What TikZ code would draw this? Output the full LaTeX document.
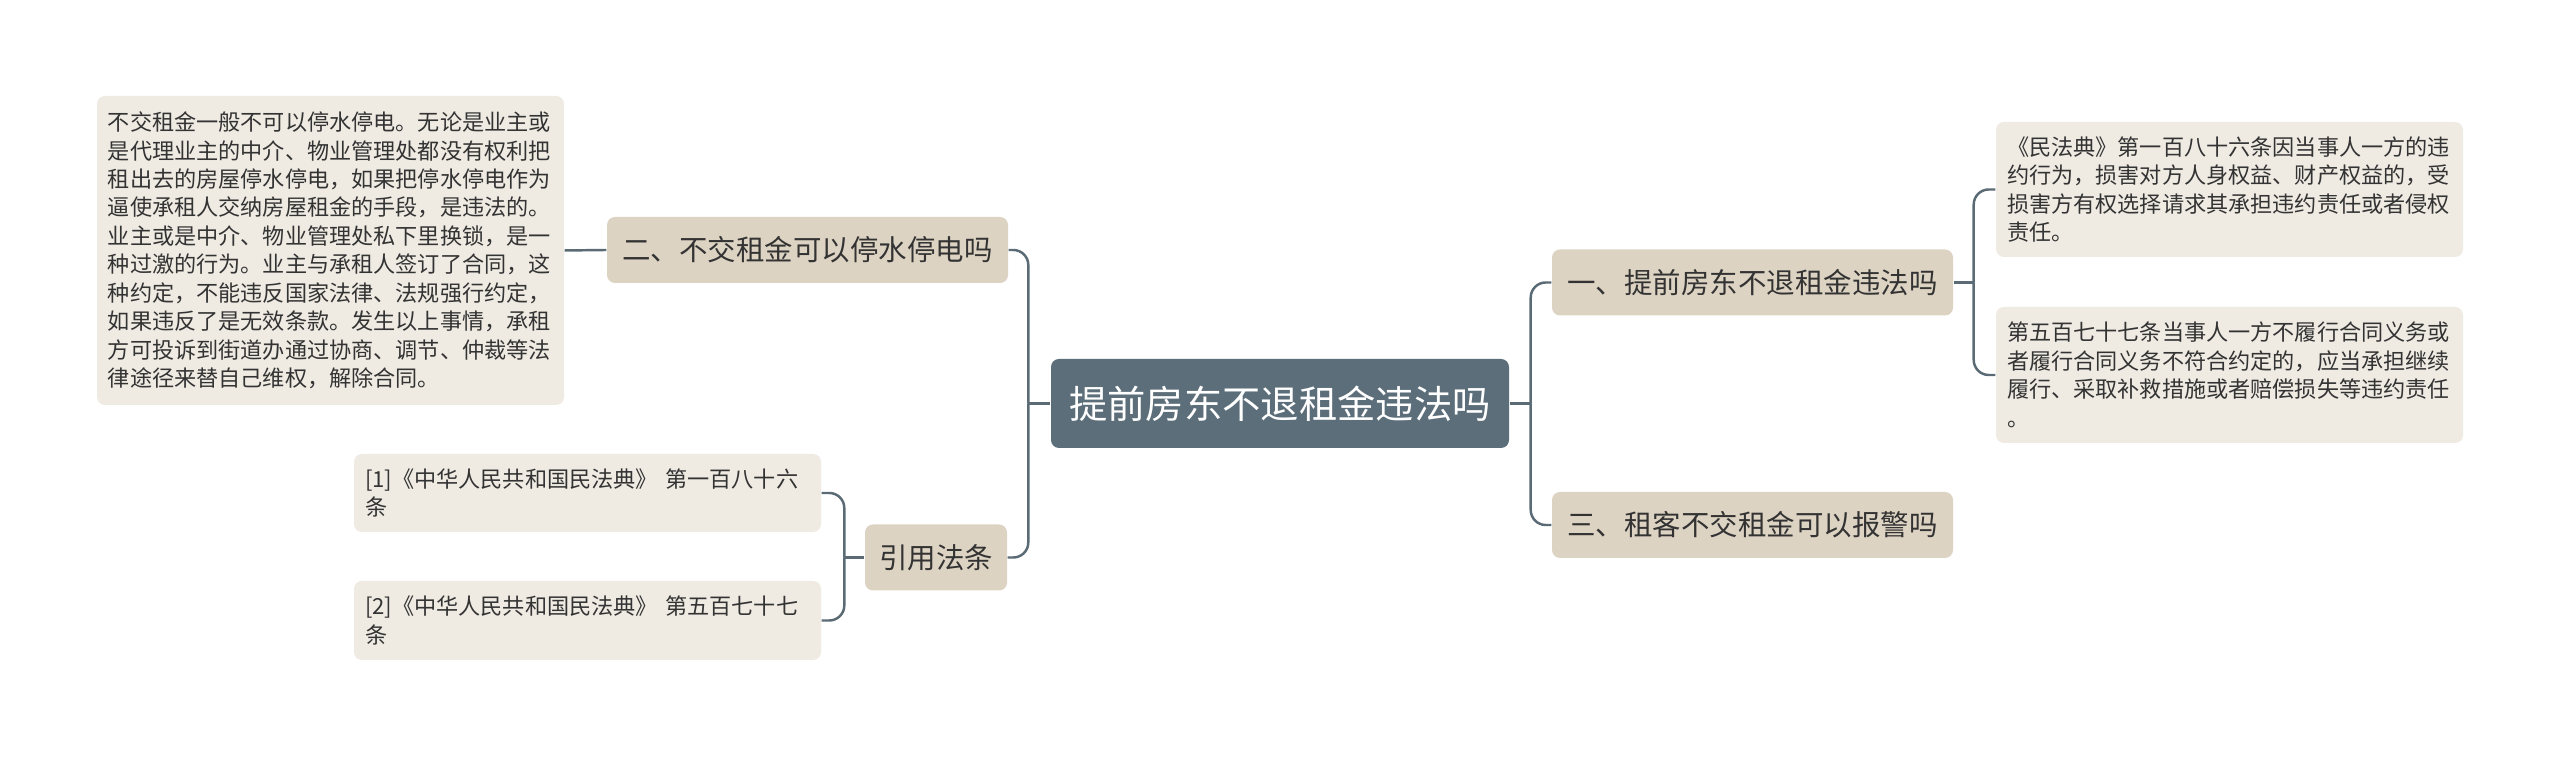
\documentclass[tikz,border=0pt]{standalone}
\usepackage{fontspec}
\setmainfont{Noto Sans CJK SC}
\usepackage{tikz}
\usepackage{xcolor}
\definecolor{rootblue}{HTML}{5B6E7A}
\definecolor{topicbg}{HTML}{DDD3C3}
\definecolor{leafbg}{HTML}{EFEBE3}
\definecolor{linkgray}{HTML}{5B6B75}
\definecolor{txt}{HTML}{333333}

\begin{document}
\begin{tikzpicture}[
  root/.style={fill=rootblue,text=white,rounded corners=0.08cm,minimum width=4.58cm,minimum height=0.89cm,font=\fontsize{10.9}{12}\selectfont},
  topic/.style={fill=topicbg,text=txt,rounded corners=0.08cm,minimum height=0.66cm,font=\fontsize{8.1}{10}\selectfont},
  leaf/.style={fill=leafbg,text=txt,rounded corners=0.08cm,align=left,inner xsep=0.11cm,text width=4.45cm,font=\fontsize{6.3}{8.1}\selectfont},
  link/.style={draw=linkgray,line width=0.7pt,rounded corners=0.15cm}]
  \useasboundingbox (0,0) rectangle (25.6,7.57);
  \fill[white] (0,0) rectangle (25.6,7.57);
  \node[root] (root) at (12.80,3.535) {提前房东不退租金违法吗};
  \node[topic,minimum width=4.01cm] (stop) at (8.075,5.07) {二、不交租金可以停水停电吗};
  \node[topic,minimum width=1.42cm] (cite) at (9.36,1.995) {引用法条};
  \node[topic,minimum width=4.01cm] (illegal) at (17.525,4.745) {一、提前房东不退租金违法吗};
  \node[topic,minimum width=4.01cm] (police) at (17.525,2.32) {三、租客不交租金可以报警吗};
  \node[leaf,minimum height=3.09cm] (stopnote) at (3.305,5.065) {不交租金一般不可以停水停电。无论是业主或\\是代理业主的中介、物业管理处都没有权利把\\租出去的房屋停水停电，如果把停水停电作为\\逼使承租人交纳房屋租金的手段，是违法的。\\业主或是中介、物业管理处私下里换锁，是一\\种过激的行为。业主与承租人签订了合同，这\\种约定，不能违反国家法律、法规强行约定，\\如果违反了是无效条款。发生以上事情，承租\\方可投诉到街道办通过协商、调节、仲裁等法\\律途径来替自己维权，解除合同。};
  \node[leaf,minimum height=0.78cm] (ref1) at (5.875,2.64) {[1]《中华人民共和国民法典》 第一百八十六\\条};
  \node[leaf,minimum height=0.79cm] (ref2) at (5.875,1.365) {[2]《中华人民共和国民法典》 第五百七十七\\条};
  \node[leaf,minimum height=1.35cm] (law1) at (22.295,5.675) {《民法典》第一百八十六条因当事人一方的违\\约行为，损害对方人身权益、财产权益的，受\\损害方有权选择请求其承担违约责任或者侵权\\责任。};
  \node[leaf,minimum height=1.36cm] (law2) at (22.295,3.82) {第五百七十七条当事人一方不履行合同义务或\\者履行合同义务不符合约定的，应当承担继续\\履行、采取补救措施或者赔偿损失等违约责任\\。};
  \draw[link] (root.west) -- ++(-0.22,0) coordinate (lhub);
  \draw[link] (lhub) |- (stop.east);
  \draw[link] (lhub) |- (cite.east);
  \draw[link] (root.east) -- ++(0.21,0) coordinate (rhub);
  \draw[link] (rhub) |- (illegal.west);
  \draw[link] (rhub) |- (police.west);
  \draw[link] (illegal.east) -- ++(0.2,0) coordinate (ihub);
  \draw[link] (ihub) |- (law1.west);
  \draw[link] (ihub) |- (law2.west);
  \draw[link] (cite.west) -- ++(-0.2,0) coordinate (chub);
  \draw[link] (chub) |- (ref1.east);
  \draw[link] (chub) |- (ref2.east);
  \draw[link] (stop.west) -- (stopnote.east);
\end{tikzpicture}
\end{document}
